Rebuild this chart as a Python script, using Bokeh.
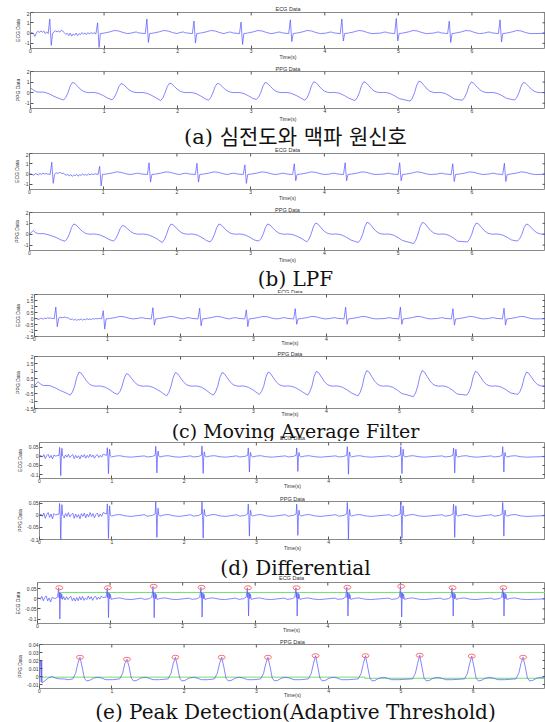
import numpy as np
from bokeh.plotting import figure
from bokeh.layouts import column
from bokeh.models import Range1d, FixedTicker, LinearAxis, Label, Title
from bokeh.embed import file_html
from bokeh.resources import INLINE

# ---------------- axis data ----------------
x_ticks = [0, 1, 2, 3, 4, 5, 6]
x_tick_labels = ["0", "1", "2", "3", "4", "5", "6"]
y_ticks_big = [-1, 0, 1, 2]
y_labels_big = ["-1", "0", "1", "2"]
y_ticks_half = [-1.5, -1, -0.5, 0, 0.5, 1, 1.5, 2]
y_labels_half = ["-1.5", "-1", "-0.5", "0", "0.5", "1", "1.5", "2"]
y_ticks_diff = [-0.1, -0.05, 0, 0.05]
y_labels_diff = ["-0.1", "-0.05", "0", "0.05"]
y_ticks_ppgd = [-0.01, 0, 0.01, 0.02, 0.03, 0.04]
y_labels_ppgd = ["-0.01", "0", "0.01", "0.02", "0.03", "0.04"]

captions = ["(a) 심전도와 맥파 원신호", "(b) LPF", "(c) Moving Average Filter",
            "(d) Differential", "(e) Peak Detection(Adaptive Threshold)"]

# ---------------- ECG beat shape (offset from R, value) ----------------
ecg_off = [-0.22, -0.18, -0.15, -0.12, -0.03, -0.008, 0.012, 0.03, 0.08, 0.16, 0.22, 0.28, 0.34, 0.40]
ecg_pt = [0.0, 0.08, 0.10, 0.02, -0.05, None, None, -0.05, 0.0, 0.12, 0.25, 0.20, 0.05, -0.05]

# (a) raw ECG
ecg_a_beats = [0.27, 0.92, 1.59, 2.23, 2.87, 3.54, 4.24, 4.98, 5.70, 6.39]
ecg_a_r = [1.37, 1.0, 1.37, 1.17, 1.06, 1.29, 1.37, 1.43, 1.17, 1.29]
ecg_a_s = [-1.2, -1.4, -0.91, -0.97, -1.11, -0.83, -0.77, -0.77, -0.91, -0.86]
ecg_a_noise = [0.0, 0.05, -0.05, -0.32, 0.02, 0.18, 0.05, 0.22, 0.08, 0.2, -0.05, 0.12,
               0.05, 0.0, 0.0, 0.05, 0.12, 0.22, 0.12, 0.2, 0.08, 0.28, 0.18, 0.05,
               -0.12, -0.02, -0.25, 0.0, -0.3, -0.08, -0.22, 0.0, -0.25, -0.05, -0.15, 0.05,
               -0.12, 0.02, -0.15, 0.05, -0.1, 0.05, -0.05, 0.02]
# (b) LPF ECG
ecg_b_beats = [0.31, 0.96, 1.63, 2.28, 2.93, 3.60, 4.29, 5.03, 5.75, 6.45]
ecg_b_r = [1.15, 0.75, 1.1, 1.05, 0.9, 1.0, 1.1, 1.1, 1.0, 1.05]
ecg_b_s = [-0.9, -1.15, -0.78, -0.78, -0.9, -0.65, -0.65, -0.65, -0.72, -0.72]
ecg_b_noise = [0.0, 0.02, -0.05, -0.12, 0.05, 0.0, -0.1, 0.08, -0.05, 0.1, 0.0, 0.05,
               0.02, 0.0, 0.0, 0.0, 0.0, 0.1, 0.15, 0.05, 0.12, 0.15, 0.05, 0.1,
               -0.05, -0.1, -0.02, -0.2, -0.05, -0.22, -0.1, -0.15, -0.02, -0.2, -0.08, -0.12,
               0.0, -0.1, -0.05, -0.12, 0.0, -0.08, 0.02, -0.05, 0.0, 0.02]
# (c) moving-average ECG
ecg_c_beats = [0.30, 0.95, 1.63, 2.27, 2.91, 3.58, 4.27, 5.02, 5.74, 6.44]
ecg_c_r = [0.95, 0.65, 0.9, 0.85, 0.72, 0.82, 0.95, 0.95, 0.82, 0.85]
ecg_c_s = [-0.68, -0.88, -0.55, -0.6, -0.68, -0.48, -0.48, -0.48, -0.55, -0.55]
ecg_c_noise = [0.0, 0.0, -0.05, -0.08, 0.0, 0.02, -0.06, 0.04, -0.02, 0.06, 0.02, 0.04,
               0.0, 0.0, 0.0, 0.0, 0.0, 0.08, 0.1, 0.06, 0.1, 0.12, 0.06, 0.06,
               -0.04, -0.08, -0.04, -0.14, -0.06, -0.16, -0.08, -0.12, -0.04, -0.14, -0.06, -0.1,
               -0.02, -0.08, -0.04, -0.08, 0.0, -0.05, 0.0, -0.03, 0.0, 0.0]

# ---------------- PPG cycle shape (offset from peak, relative value) ----------------
ppg_off = [-0.12, -0.09, -0.06, -0.03, 0.0, 0.03, 0.07, 0.11, 0.15, 0.19, 0.23, 0.27, 0.31, 0.36, 0.42, 0.48]
ppg_rel = [-1.0, -0.65, 0.0, 0.65, 1.0, 0.92, 0.62, 0.32, 0.12, 0.03, 0.0, 0.02, 0.0, -0.12, -0.4, -0.75]

ppg_a_peaks_t = [0.57, 1.23, 1.89, 2.54, 3.19, 3.85, 4.53, 5.28, 5.99, 6.70]
ppg_a_peak = [0.97, 0.85, 0.9, 0.88, 0.97, 1.03, 1.03, 1.09, 1.0, 0.97]
ppg_a_trough = [-0.7, -0.68, -0.75, -0.72, -0.65, -0.72, -0.75, -0.8, -0.72, -0.7]
ppg_a_lead_t = [0.0, 0.04, 0.08, 0.12, 0.18, 0.25, 0.32, 0.39]
ppg_a_lead_v = [0.45, 0.25, 0.08, 0.05, 0.05, -0.1, -0.35, -0.55]

ppg_b_peaks_t = [0.60, 1.26, 1.92, 2.57, 3.23, 3.88, 4.58, 5.33, 6.06, 6.74]
ppg_b_peak = [0.94, 0.8, 0.94, 0.94, 0.94, 1.03, 1.09, 1.09, 1.03, 0.94]
ppg_b_trough = [-0.65, -0.63, -0.77, -0.71, -0.63, -0.71, -0.77, -0.86, -0.71, -0.63]
ppg_b_lead_t = [0.0, 0.02, 0.05, 0.08, 0.12, 0.2, 0.28, 0.36, 0.42]
ppg_b_lead_v = [0.0, 0.12, 0.35, 0.15, 0.05, 0.05, -0.1, -0.3, -0.5]

ppg_c_peaks_t = [0.61, 1.26, 1.93, 2.57, 3.20, 3.86, 4.55, 5.31, 6.04, 6.74]
ppg_c_peak = [0.95, 0.85, 0.92, 0.92, 0.95, 1.0, 1.05, 1.05, 1.0, 0.95]
ppg_c_trough = [-0.6, -0.55, -0.65, -0.6, -0.55, -0.6, -0.65, -0.7, -0.6, -0.55]
ppg_c_lead_t = [0.0, 0.02, 0.05, 0.08, 0.12, 0.2, 0.28, 0.36, 0.43]
ppg_c_lead_v = [0.0, 0.15, 0.3, 0.15, 0.05, 0.05, -0.1, -0.3, -0.45]

# ---------------- differentiated ECG (d) ----------------
d_off = [-0.17, -0.13, -0.06, -0.02, -0.012, -0.004, 0.004, 0.012, 0.02, 0.03, 0.045, 0.1, 0.16, 0.24, 0.32]
d_beats = [0.29, 0.95, 1.62, 2.26, 2.90, 3.57, 4.27, 5.01, 5.74, 6.42]
d_pos = [0.05, 0.048, 0.056, 0.058, 0.047, 0.047, 0.054, 0.054, 0.047, 0.054]
d_neg = [-0.106, -0.095, -0.091, -0.094, -0.086, -0.083, -0.098, -0.095, -0.091, -0.086]
d_pos2 = [0.045, 0.04, 0.03, 0.025, 0.022, 0.022, 0.025, 0.04, 0.04, 0.022]
d_noise = [0.0, 0.006, -0.004, 0.01, -0.012, 0.004, 0.012, -0.008, 0.006, -0.014, 0.008, 0.002,
           0.0, 0.0, 0.0, 0.0, 0.0, -0.01, 0.008, -0.004, 0.012, -0.006, 0.004, 0.01,
           -0.012, 0.006, -0.008, 0.004, -0.014, 0.008, -0.004, 0.01, -0.01, 0.006, -0.006, 0.012,
           -0.004, 0.008, -0.01, 0.004, 0.01, -0.006, 0.006, -0.004, 0.012, 0.004]

# ---------------- peak detection (e) ----------------
e_off = [-0.17, -0.13, -0.06, -0.025, -0.016, -0.008, -0.003, 0.002, 0.008, 0.014, 0.02, 0.026, 0.034, 0.046, 0.1, 0.16, 0.24, 0.32]
e_beats = [0.30, 0.97, 1.60, 2.26, 2.90, 3.57, 4.27, 5.01, 5.72, 6.42]
e_pos = [0.054, 0.054, 0.061, 0.056, 0.054, 0.054, 0.056, 0.061, 0.054, 0.054]
e_neg = [-0.1, -0.093, -0.093, -0.09, -0.085, -0.085, -0.085, -0.09, -0.085, -0.085]
e_noise = [0.0, 0.004, -0.002, 0.012, -0.01, 0.006, 0.014, -0.01, 0.004, -0.016, 0.006, 0.004,
           0.0, 0.0, 0.0, 0.0, 0.0, -0.008, 0.01, -0.006, 0.01, -0.004, 0.006, 0.012,
           -0.01, 0.004, -0.012, 0.006, -0.01, 0.01, -0.006, 0.012, -0.008, 0.004, -0.004, 0.014,
           -0.002, 0.01, -0.008, 0.006, 0.012, -0.004, 0.008, -0.002, 0.014, 0.006]
e_thr_t = [0.30, 7.0]
e_thr_v = [0.031, 0.031]

pe_off = [-0.10, -0.06, -0.03, 0.0, 0.03, 0.06, 0.09, 0.13, 0.19, 0.25, 0.30, 0.36, 0.45]
pe_rel = [-0.003, 0.004, 0.016, None, 0.012, -0.002, -0.0055, -0.005, -0.002, -0.001, -0.002, -0.004, -0.004]
pe_beats = [0.56, 1.21, 1.88, 2.52, 3.16, 3.82, 4.51, 5.26, 5.98, 6.69]
pe_peak = [0.024, 0.0215, 0.024, 0.024, 0.024, 0.026, 0.026, 0.0265, 0.0255, 0.024]
pe_lead_t = [0.0, 0.012, 0.018, 0.024, 0.03, 0.036, 0.05, 0.08, 0.12, 0.17, 0.22, 0.28, 0.34, 0.40]
pe_lead_v = [0.0, 0.02, 0.02, -0.007, 0.02, -0.008, -0.007, -0.005, -0.002, 0.0, -0.002, -0.003, -0.003, -0.004]
pe_thr_t = [0.0, 4.5, 4.5, 7.0]
pe_thr_v = [-0.0008, -0.0008, -0.0022, -0.0022]

END_T = 7.0


def assemble(lead_t, lead_v, lead_end, beats, offs, rows, keep_win, tail_v):
    pts = []
    for t, v in zip(lead_t, lead_v):
        if all(abs(t - b) > keep_win for b in beats):
            pts.append((t, v))
    for b, row in zip(beats, rows):
        for o, v in zip(offs, row):
            t = b + o
            if t < lead_end and abs(o) > keep_win:
                continue
            pts.append((t, v))
    pts.append((END_T + 0.05, tail_v))
    pts.sort()
    return [p[0] for p in pts], [p[1] for p in pts]


def ecg_series(beats, r, s, scale, noise):
    rows = []
    for rk, sk in zip(r, s):
        row = []
        for i, v in enumerate(ecg_pt):
            row.append(rk if i == 5 else sk if i == 6 else v * scale)
        rows.append(row)
    nt = [round(0.02 * i, 2) for i in range(len(noise))]
    return assemble(nt, noise, nt[-1] + 0.01, beats, ecg_off, rows, 0.035, -0.02)


def ppg_series(peaks_t, peaks, troughs, lead_t, lead_v):
    rows = [[v * pk if v >= 0 else v * abs(tr) for v in ppg_rel] for pk, tr in zip(peaks, troughs)]
    return assemble(lead_t, lead_v, lead_t[-1] + 0.01, peaks_t, ppg_off, rows, -1, 0.0)


def diff_d_series():
    rows = []
    for pk, ng, p2 in zip(d_pos, d_neg, d_pos2):
        rows.append([0.003, -0.003, 0.0, 0.006, pk, 0.004, ng, -0.004, p2, 0.002, -0.003, 0.002, 0.004, -0.002, -0.004])
    nt = [round(0.02 * i, 2) for i in range(len(d_noise))]
    return assemble(nt, d_noise, nt[-1] + 0.01, d_beats, d_off, rows, 0.05, 0.0)


def diff_e_series():
    rows = []
    for pk, ng in zip(e_pos, e_neg):
        rows.append([0.003, -0.003, 0.0, 0.008, 0.03, pk, 0.005, 0.03, ng, -0.002, 0.028, 0.0, 0.022, -0.003, 0.002, 0.004, -0.002, -0.004])
    nt = [round(0.02 * i, 2) for i in range(len(e_noise))]
    return assemble(nt, e_noise, nt[-1] + 0.01, e_beats, e_off, rows, 0.05, 0.0)


def ppgd_series():
    rows = [[pk if v is None else v for v in pe_rel] for pk in pe_peak]
    return assemble(pe_lead_t, pe_lead_v, pe_lead_t[-1] + 0.01, pe_beats, pe_off, rows, -1, -0.004)


# ---------------- layout ----------------
W = 545
SANS = "Liberation Sans"
CAP_FONT = "'DejaVu Serif', 'Noto Sans CJK KR'"
LINE_C = "#5252ff"
FRAME_C = "#8a8a8a"
TXT_C = "#333333"

# (name, fig top, frame top, frame bottom, fig bottom, frame left, Time(s) standoff,
#  y range, ticks, tick labels, y label, title above frame?)
panels = [
    ("aE", 11, 12, 52, 62, 30, -2, (-1.5, 2.0), y_ticks_big, y_labels_big, "ECG Data", False),
    ("aP", 62, 71, 112, 124, 30, 0, (-1.5, 2.0), y_ticks_big, y_labels_big, "PPG Data", True),
    ("bE", 152, 153, 193, 203, 29, -2, (-1.5, 2.0), y_ticks_big, y_labels_big, "ECG Data", False),
    ("bP", 203, 212, 254, 265, 29, -1, (-1.5, 2.0), y_ticks_big, y_labels_big, "PPG Data", True),
    ("cE", 293, 294, 340, 348, 34, -4, (-1.5, 2.0), y_ticks_half, y_labels_half, "ECG Data", False),
    ("cP", 348, 356, 412, 419, 34, -5, (-1.5, 2.0), y_ticks_half, y_labels_half, "PPG Data", True),
    ("dE", 441, 442, 482, 491, 39, -3, (-0.122, 0.077), y_ticks_diff, y_labels_diff, "ECG Data", False),
    ("dP", 491, 501, 543, 553, 39, -2, (-0.1, 0.058), y_ticks_diff, y_labels_diff, "PPG Data", True),
    ("eE", 581, 582, 627, 635, 37, -4, (-0.122, 0.08), y_ticks_diff, y_labels_diff, "ECG Data", False),
    ("eP", 635, 644, 692, 700, 39, -4, (-0.015, 0.04), y_ticks_ppgd, y_labels_ppgd, "PPG Data", True),
]
ecg_title_y = [7, 149, 291, 437, 577]
caption_y = [136, 278, 430, 567, 711]
caption_size = ["21px", "20px", "19px", "20px", "20px"]
CAP_X = 295
TOTAL_H = 722

series = {
    "aE": ecg_series(ecg_a_beats, ecg_a_r, ecg_a_s, 1.0, ecg_a_noise),
    "aP": ppg_series(ppg_a_peaks_t, ppg_a_peak, ppg_a_trough, ppg_a_lead_t, ppg_a_lead_v),
    "bE": ecg_series(ecg_b_beats, ecg_b_r, ecg_b_s, 0.85, ecg_b_noise),
    "bP": ppg_series(ppg_b_peaks_t, ppg_b_peak, ppg_b_trough, ppg_b_lead_t, ppg_b_lead_v),
    "cE": ecg_series(ecg_c_beats, ecg_c_r, ecg_c_s, 0.7, ecg_c_noise),
    "cP": ppg_series(ppg_c_peaks_t, ppg_c_peak, ppg_c_trough, ppg_c_lead_t, ppg_c_lead_v),
    "dE": diff_d_series(),
    "dP": diff_d_series(),
    "eE": diff_e_series(),
    "eP": ppgd_series(),
}

# free texts placed in the gaps (absolute x, absolute y, text, size, font, colour)
texts = []
ecg_panels = [pn for pn in panels if not pn[11]]
for pn, ty in zip(ecg_panels, ecg_title_y):
    texts.append(((pn[5] + W) / 2, ty, pn[10], "5.5px", SANS, TXT_C))
for c, cy, cs in zip(captions, caption_y, caption_size):
    texts.append((CAP_X, cy, c, cs, CAP_FONT, "#111111"))


def gap_fig(top, bot):
    h = bot - top
    g = figure(width=W, height=h, x_range=Range1d(0, W), y_range=Range1d(0, h),
               output_backend="svg", toolbar_location=None,
               min_border_top=0, min_border_bottom=0, min_border_left=0, min_border_right=0,
               x_axis_location=None, y_axis_location=None)
    g.outline_line_color = None
    g.grid.visible = False
    g.background_fill_color = "white"
    g.border_fill_color = "white"
    for (tx, ty, txt, size, font, col) in texts:
        if top <= ty < bot:
            g.add_layout(Label(x=tx, y=h - (ty - top), x_units="screen", y_units="screen",
                               text=txt, text_align="center", text_baseline="middle",
                               text_font=font, text_font_size=size, text_color=col))
    return g


def panel_fig(pn):
    name, top, ft, fb, bot, left, tstand, yr, yt, yl, ylab, has_title = pn
    p = figure(width=W, height=bot - top, x_range=Range1d(0, END_T), y_range=Range1d(*yr),
               output_backend="svg", toolbar_location=None,
               min_border_top=ft - top, min_border_bottom=bot - fb,
               min_border_left=left, min_border_right=0,
               x_axis_location=None, y_axis_location=None)
    p.outline_line_color = FRAME_C
    p.outline_line_width = 1
    p.background_fill_color = "white"
    p.border_fill_color = "white"
    p.grid.visible = False
    if has_title:
        p.add_layout(Title(text=ylab, align="center", standoff=0, text_font=SANS,
                           text_font_size="5.5px", text_font_style="normal",
                           text_color=TXT_C), "above")

    xb = LinearAxis(ticker=FixedTicker(ticks=x_ticks),
                    major_label_overrides=dict(zip(x_ticks, x_tick_labels)),
                    axis_label="Time(s)")
    ya = LinearAxis(ticker=FixedTicker(ticks=yt),
                    major_label_overrides=dict(zip(yt, yl)), axis_label=ylab)
    for ax in (xb, ya):
        ax.axis_line_color = None
        ax.major_tick_in = 3
        ax.major_tick_out = 0
        ax.minor_tick_line_color = None
        ax.major_tick_line_color = "#555555"
        ax.major_label_text_font = SANS
        ax.major_label_text_font_size = "5px"
        ax.major_label_text_color = TXT_C
        ax.major_label_standoff = 1
        ax.axis_label_text_font = SANS
        ax.axis_label_text_font_size = "5px"
        ax.axis_label_text_font_style = "normal"
        ax.axis_label_text_color = TXT_C
    xb.major_label_standoff = 0
    xb.axis_label_standoff = tstand
    ya.axis_label_standoff = 1
    p.add_layout(xb, "below")
    p.add_layout(ya, "left")

    # inward ticks on the top and right edges of the box
    p.scatter(x_ticks, [yr[1]] * len(x_ticks), marker="dash", angle=np.pi / 2, size=6,
              line_color="#555555", line_width=1)
    p.scatter([END_T] * len(yt), yt, marker="dash", size=6, line_color="#555555", line_width=1)

    xs, ys = series[name]
    if name == "eE":
        p.line(e_thr_t, e_thr_v, line_color="#6ee06e", line_width=1)
    if name == "eP":
        p.line(pe_thr_t, pe_thr_v, line_color="#6ee06e", line_width=1)
    p.line(xs, ys, line_color=LINE_C, line_width=0.7)
    if name == "eE":
        p.ellipse(e_beats, e_pos, width=7, height=4, width_units="screen", height_units="screen",
                  fill_color=None, line_color="#ff7070", line_width=1)
    if name == "eP":
        p.ellipse(pe_beats, pe_peak, width=7, height=4, width_units="screen", height_units="screen",
                  fill_color=None, line_color="#ff7070", line_width=1)
    return p


figs = []
cursor = 0
for pn in panels:
    if pn[1] > cursor:
        figs.append(gap_fig(cursor, pn[1]))
    figs.append(panel_fig(pn))
    cursor = pn[4]
if cursor < TOTAL_H:
    figs.append(gap_fig(cursor, TOTAL_H))

# each figure in its own box so that frames are not aligned across the stack
layout = column(*[column(f, spacing=0) for f in figs], spacing=0)
open("out.html", "w").write(file_html(layout, INLINE))
